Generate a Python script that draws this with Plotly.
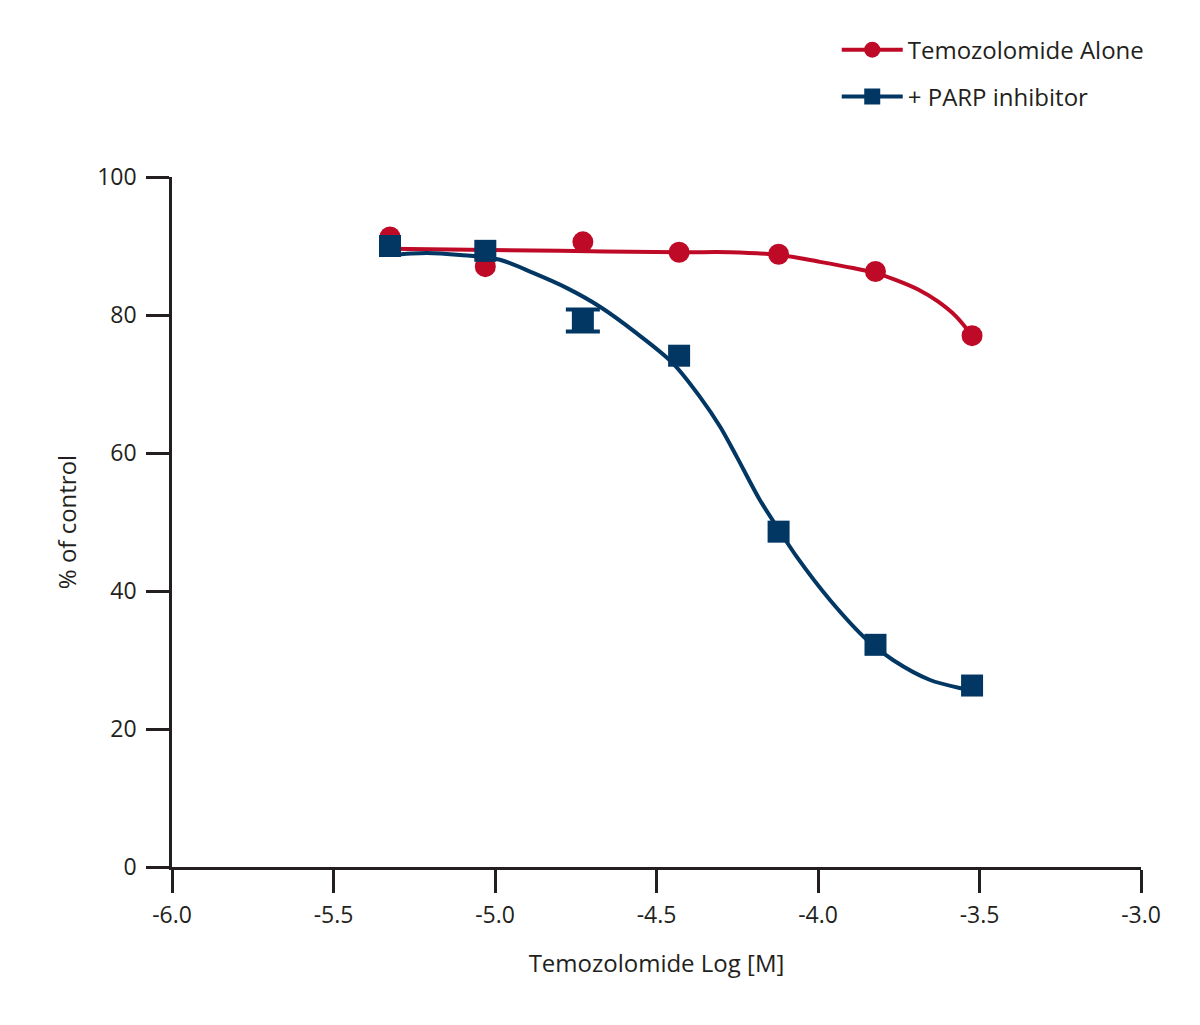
import plotly.graph_objects as go

# Measured data points
log_conc = [-5.325, -5.03, -4.728, -4.43, -4.122, -3.822, -3.523]
tmz_alone = [91.3, 87.0, 90.6, 89.1, 88.8, 86.3, 77.0]
tmz_parp = [90.0, 89.3, 79.2, 74.1, 48.6, 32.2, 26.3]
tmz_parp_err = [0, 0, 1.6, 0, 0, 0, 0]

# Fitted curves
fit_alone_x = [-5.325, -4.80, -4.427, -4.272, -4.118, -3.994, -3.892, -3.824, -3.760,
               -3.690, -3.630, -3.575, -3.523]
fit_alone_y = [89.6, 89.3, 89.1, 89.1, 88.7, 87.7, 86.8, 86.1, 85.1,
               83.7, 82.0, 79.9, 77.0]

fit_parp_x = [-5.328, -5.211, -5.108, -4.985, -4.882, -4.777, -4.675, -4.560, -4.449,
              -4.365, -4.303, -4.251, -4.180, -4.127, -4.065, -3.963, -3.848, -3.768,
              -3.653, -3.539, -3.523]
fit_parp_y = [88.7, 89.0, 88.7, 88.0, 86.1, 83.9, 81.2, 77.3, 73.0,
              68.1, 63.8, 59.4, 53.2, 49.3, 44.9, 38.7, 32.9, 30.0,
              27.1, 25.7, 25.5]

x_ticks = [-6.0, -5.5, -5.0, -4.5, -4.0, -3.5, -3.0]
y_ticks = [0, 20, 40, 60, 80, 100]

RED = "#BE0A26"
BLUE = "#023764"
INK = "#231F20"
FONT = "Open Sans"

err_idx = [i for i, e in enumerate(tmz_parp_err) if e > 0]

fig = go.Figure()

# curves + data
fig.add_trace(go.Scatter(x=fit_alone_x, y=fit_alone_y, mode="lines",
                         line=dict(color=RED, width=4, shape="spline", smoothing=0.9),
                         showlegend=False, hoverinfo="skip"))
fig.add_trace(go.Scatter(x=log_conc, y=tmz_alone, mode="markers",
                         marker=dict(symbol="circle", size=21, color=RED),
                         showlegend=False))
fig.add_trace(go.Scatter(x=fit_parp_x, y=fit_parp_y, mode="lines",
                         line=dict(color=BLUE, width=4, shape="spline", smoothing=0.9),
                         showlegend=False, hoverinfo="skip"))
fig.add_trace(go.Scatter(x=[log_conc[i] for i in err_idx], y=[tmz_parp[i] for i in err_idx],
                         mode="markers", marker=dict(size=1, color=BLUE, opacity=0),
                         error_y=dict(type="data", array=[tmz_parp_err[i] for i in err_idx],
                                      visible=True, color=BLUE, thickness=4, width=17),
                         showlegend=False, hoverinfo="skip"))
fig.add_trace(go.Scatter(x=log_conc, y=tmz_parp, mode="markers",
                         marker=dict(symbol="square", size=22, color=BLUE),
                         showlegend=False))

# legend entries
fig.add_trace(go.Scatter(x=[None], y=[None], mode="lines+markers", name="Temozolomide Alone",
                         line=dict(color=RED, width=4),
                         marker=dict(symbol="circle", size=21, color=RED), legend="legend"))
fig.add_trace(go.Scatter(x=[None], y=[None], mode="lines+markers", name="+ PARP inhibitor",
                         line=dict(color=BLUE, width=4),
                         marker=dict(symbol="square", size=22, color=BLUE), legend="legend2"))

axis_common = dict(showline=True, linecolor=INK, linewidth=2.5, ticks="outside",
                   ticklen=23, tickwidth=2.5, tickcolor=INK, showgrid=False, zeroline=False,
                   tickfont=dict(family=FONT, size=23, color=INK))

fig.update_layout(
    width=1200, height=1025,
    margin=dict(l=164, r=67, t=169, b=166),
    paper_bgcolor="white", plot_bgcolor="white",
    font=dict(family=FONT, color=INK),
    xaxis=dict(range=[-6.0, -3.0], tickvals=x_ticks,
               ticktext=[f"{v:.1f}" for v in x_ticks], ticklabelstandoff=3,
               title=dict(text="Temozolomide Log [M]", font=dict(family=FONT, size=24, color=INK), standoff=26),
               **axis_common),
    yaxis=dict(range=[0, 100], tickvals=y_ticks, ticklabelstandoff=5,
               title=dict(text="% of control", font=dict(family=FONT, size=24, color=INK), standoff=14),
               **axis_common),
    legend=dict(x=0.686, y=1.184, xanchor="left", yanchor="middle",
                font=dict(family=FONT, size=24, color=INK), bgcolor="rgba(0,0,0,0)",
                itemwidth=61),
    legend2=dict(x=0.686, y=1.116, xanchor="left", yanchor="middle",
                 font=dict(family=FONT, size=24, color=INK), bgcolor="rgba(0,0,0,0)",
                 itemwidth=61),
)

fig.write_html("out.html")
